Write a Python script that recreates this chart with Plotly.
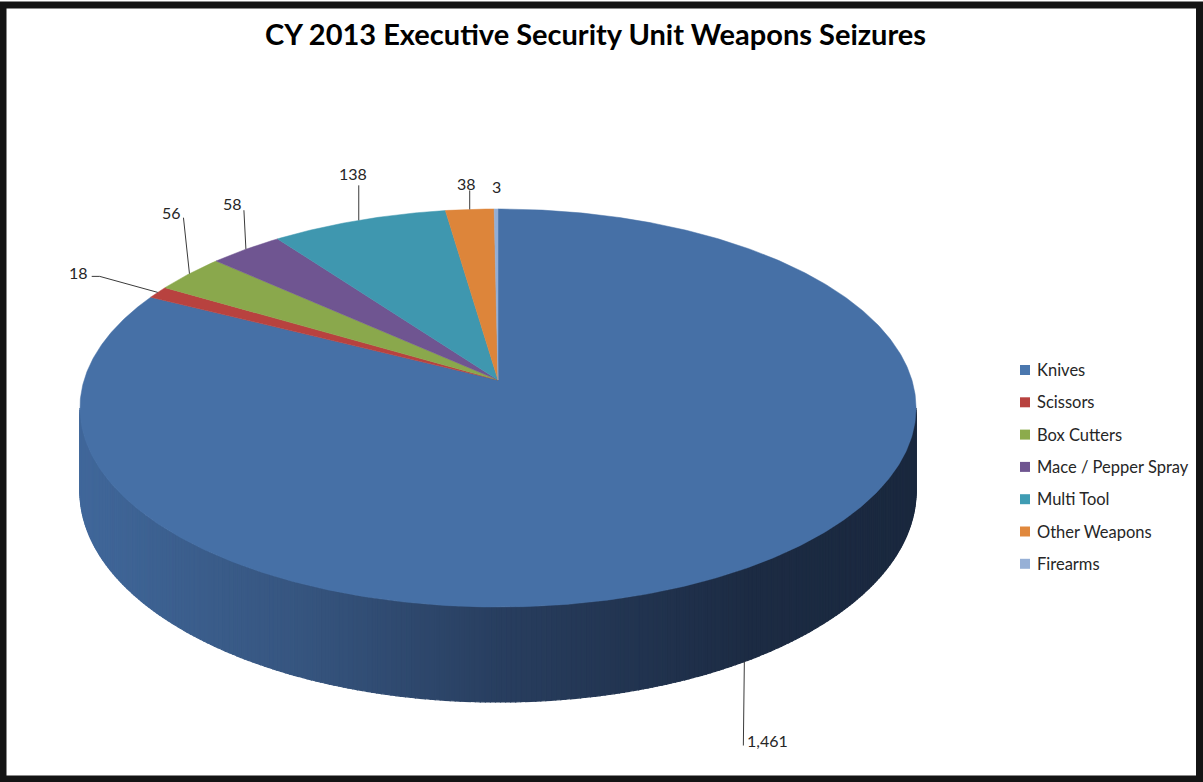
import numpy as np
import plotly.graph_objects as go

# ---------------- data ----------------
categories = ["Knives", "Scissors", "Box Cutters", "Mace / Pepper Spray",
              "Multi Tool", "Other Weapons", "Firearms"]
values = [1461, 18, 56, 58, 138, 38, 3]
value_labels = ["1,461", "18", "56", "58", "138", "38", "3"]
title_text = "CY 2013 Executive Security Unit Weapons Seizures"

# ---------------- style ----------------
top_colors = ["#4670A6", "#B8423F", "#8AA84C", "#6F5591", "#3F97AF", "#DD853A", "#93AED5"]
legend_colors = ["#4A77AE", "#B8423F", "#8CAB4C", "#6F5590", "#3F9CB3", "#E0883D", "#96B0D6"]
W, H = 1203, 782
CX, CY = 498.0, 380.0          # pie centre (pixels)
A, B, K, D = 413.9, 195.1, 0.1407, 81.6   # projection: half-width, half-height, perspective, depth
FONT = "Lato"

# label placement (pixel offsets relative to the slice's edge point)
label_style = [
    dict(edge="bottom", line=[(0, 0), (-1, 84)], text=(1, 79), anchor="left"),
    dict(edge="top", line=[(0, 0), (-58, -16), (-66, -16)], text=(-68, -20), anchor="right"),
    dict(edge="top", line=[(0, 0), (-6, -56)], text=(-18, -61), anchor="center"),
    dict(edge="top", line=[(0, 0), (-2, -39)], text=(-13, -46), anchor="center"),
    dict(edge="top", line=[(0, 0), (0, -35)], text=(-6, -47), anchor="center"),
    dict(edge="top", line=[(0, 0), (0, -19)], text=(-3, -26), anchor="center"),
    dict(edge="top", line=None, text=(0, -22), anchor="center"),
]


def proj(theta_deg, h=0.0):
    t = np.radians(theta_deg)
    u, v = np.sin(t), np.cos(t)
    den = 1 + K * v
    return CX + A * u / den, CY + (-B * v + D * h) / den


def side_color(x):
    xs = [80, 300, 500, 750, 920]
    cs = np.array([(64, 103, 154), (54, 85, 127), (40, 62, 95), (28, 43, 67), (26, 40, 62)])
    r, g, b = (int(round(np.interp(x, xs, cs[:, i]))) for i in range(3))
    return f"rgb({r},{g},{b})"


total = float(sum(values))
angles = np.cumsum([0] + [v / total * 360 for v in values])

fig = go.Figure()

# ---- side wall (visible front part) ----
vis_lo = np.degrees(np.arccos(-K))
vis_hi = 360 - vis_lo
for i in range(len(values)):
    a, b = max(angles[i], vis_lo), min(angles[i + 1], vis_hi)
    if b <= a:
        continue
    edges = np.linspace(a, b, max(2, int((b - a) / 0.6) + 1))
    for s0, s1 in zip(edges[:-1], edges[1:]):
        th = np.linspace(s0, s1, 3)
        xt, yt = proj(th, 0)
        xb, yb = proj(th[::-1], 1)
        xs = np.concatenate([xt, xb, xt[:1]])
        ys = np.concatenate([yt, yb, yt[:1]])
        col = side_color(float(np.mean(xt)))
        fig.add_trace(go.Scatter(x=xs, y=ys, mode="lines", fill="toself",
                                 fillcolor=col, line=dict(color=col, width=1.2),
                                 hoverinfo="skip", showlegend=False))

# ---- top surface slices ----
for i in range(len(values)):
    a, b = angles[i], angles[i + 1]
    th = np.linspace(a, b, max(3, int((b - a) / 0.5) + 2))
    xa, ya = proj(th, 0)
    xs = np.concatenate([[CX], xa, [CX]])
    ys = np.concatenate([[CY], ya, [CY]])
    fig.add_trace(go.Scatter(x=xs, y=ys, mode="lines", fill="toself",
                             fillcolor=top_colors[i], line=dict(color=top_colors[i], width=0.5),
                             hoverinfo="skip", showlegend=False, name=categories[i]))

# ---- data labels + leader lines ----
lx, ly = [], []
annotations = []
for i in range(len(values)):
    mid = (angles[i] + angles[i + 1]) / 2
    st = label_style[i]
    ex, ey = proj(mid, 1 if st["edge"] == "bottom" else 0)
    if st["line"]:
        for dx, dy in st["line"]:
            lx.append(ex + dx)
            ly.append(ey + dy)
        lx.append(None)
        ly.append(None)
    tx, ty = ex + st["text"][0], ey + st["text"][1]
    annotations.append(dict(x=tx, y=ty, xref="x", yref="y", text=value_labels[i],
                            showarrow=False, xanchor=st["anchor"], yanchor="middle",
                            font=dict(family=FONT, size=16, color="#262626")))
fig.add_trace(go.Scatter(x=lx, y=ly, mode="lines", line=dict(color="#3a3a3a", width=1),
                         hoverinfo="skip", showlegend=False))

# ---- legend (manual) ----
leg_y = [370 + 32.3 * i for i in range(len(categories))]
fig.add_trace(go.Scatter(x=[1025] * len(categories), y=leg_y, mode="markers",
                         marker=dict(symbol="square", size=10, color=legend_colors, line=dict(width=0)),
                         hoverinfo="skip", showlegend=False))
for cat, y in zip(categories, leg_y):
    annotations.append(dict(x=1035, y=y, xref="x", yref="y", text=cat, showarrow=False,
                            xanchor="left", yanchor="middle",
                            font=dict(family=FONT, size=16.5, color="#262626")))

# ---- title ----
annotations.append(dict(x=595, y=33, xref="x", yref="y", text=f"<b>{title_text}</b>",
                        showarrow=False, xanchor="center", yanchor="middle",
                        font=dict(family=FONT, size=29, color="#000000")))

fig.update_layout(
    width=W, height=H, autosize=False,
    margin=dict(l=0, r=0, t=0, b=0),
    paper_bgcolor="white", plot_bgcolor="white",
    xaxis=dict(range=[0, W], visible=False, fixedrange=True),
    yaxis=dict(range=[H, 0], visible=False, fixedrange=True),
    annotations=annotations,
    shapes=[dict(type="rect", xref="x", yref="y", x0=3, y0=5, x1=1199.5, y1=779,
                 line=dict(color="#141414", width=7), fillcolor="rgba(0,0,0,0)", layer="above")],
    showlegend=False,
)

fig.write_html("out.html", config={"displayModeBar": False})
